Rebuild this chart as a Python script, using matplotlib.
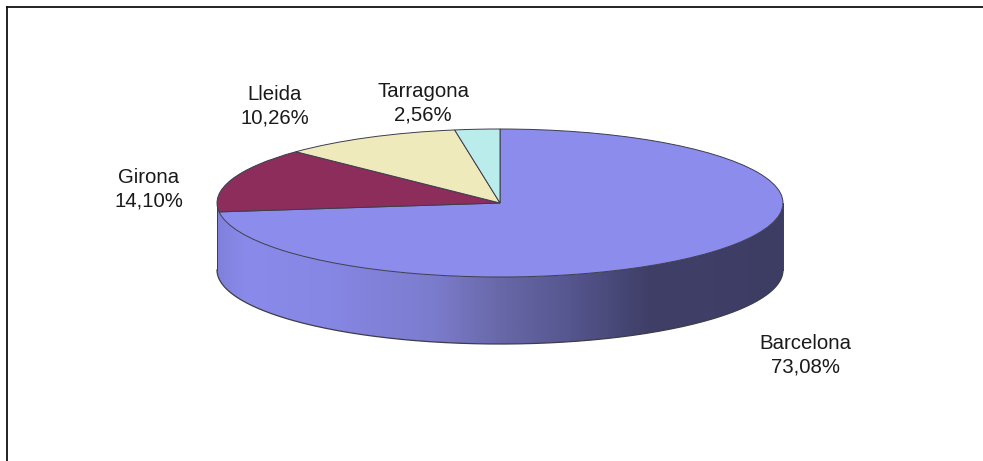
import numpy as np
import matplotlib
matplotlib.use('Agg')
import matplotlib.pyplot as plt
from matplotlib.colors import LinearSegmentedColormap
from matplotlib.patches import PathPatch
from matplotlib.path import Path

plt.rcParams['font.family'] = ['Liberation Sans', 'DejaVu Sans']

# Pie data, clockwise from 12 o'clock
labels = ['Barcelona', 'Girona', 'Lleida', 'Tarragona']
shares = [73.08, 14.10, 10.26, 2.56]
colors = ['#8c8ced', '#8c2d5c', '#eeeabb', '#bbecec']
share_text = ['73,08%', '14,10%', '10,26%', '2,56%']
label_pos = [(805, 355), (149, 189), (275, 106), (423, 103)]

# Pie geometry in pixels of the 983x461 image
W, H = 983, 461
cx, cy, rx, ry, depth = 500, 203, 283, 74, 67
edge = '#3c3c4c'

fig = plt.figure(figsize=(W / 100, H / 100), dpi=100, facecolor='white')
ax = fig.add_axes([0, 0, 1, 1])

wedges, _ = ax.pie(shares, colors=colors, startangle=90, counterclock=False,
                   radius=1, wedgeprops={'edgecolor': edge, 'linewidth': 0.7, 'zorder': 5})

# stretch the round pie into the flattened ellipse, data units are radii
ax.set_aspect('auto')
d = depth / ry

# side wall, front half of the disc
t_front = np.linspace(np.pi, 2 * np.pi, 300)
xs = np.cos(t_front)
ys = np.sin(t_front)
wall_xy = np.vstack([np.column_stack([xs, ys]),
                     np.column_stack([xs[::-1], ys[::-1] - d])])
wall_path = Path(np.vstack([wall_xy, wall_xy[0]]), closed=True)

wall_cmap = LinearSegmentedColormap.from_list('wall', [
    (0.00, '#8080dc'), (0.05, '#8a8aea'), (0.20, '#8686e4'), (0.38, '#7c7cce'),
    (0.50, '#6868a8'), (0.62, '#565690'), (0.76, '#3f3f68'), (1.00, '#3d3d64')])
grad = np.linspace(0, 1, 512).reshape(1, -1)
im = ax.imshow(grad, cmap=wall_cmap, extent=(-1, 1, -1 - d, 1), aspect='auto', zorder=2)
ax.set_xlim((0 - cx) / rx, (W - cx) / rx)
ax.set_ylim((cy - H) / ry, cy / ry)
ax.axis('off')
patch = PathPatch(wall_path, facecolor='none', edgecolor='none', transform=ax.transData)
ax.add_patch(patch)
im.set_clip_path(patch)

# thin maroon strip where Girona reaches the left rim
t_g = np.linspace(np.pi, np.pi + 0.045, 12)
gx = np.concatenate([np.cos(t_g), np.cos(t_g[::-1])])
gy = np.concatenate([np.sin(t_g), np.sin(t_g[::-1]) - d * 0.92])
ax.fill(gx, gy, color='#8c2d5c', zorder=3, lw=0)

# outline of the wall
ax.plot(xs, ys - d, color=edge, lw=0.9, zorder=4)
ax.plot([-1, -1], [0, -d], color=edge, lw=0.7, zorder=4)
ax.plot([1, 1], [0, -d], color=edge, lw=0.7, zorder=4)

for name, pct, (px, py) in zip(labels, share_text, label_pos):
    ax.text((px - cx) / rx, (cy - py) / ry, f'{name}\n{pct}', ha='center', va='center',
            fontsize=14.7, color='#1a1a1a', linespacing=1.27, zorder=6)

# frame, open at right and bottom of the crop
fig.add_artist(plt.Line2D([6.5 / W, 6.5 / W], [0, 1 - 7.5 / H], color='#111111', lw=1.3))
fig.add_artist(plt.Line2D([6.5 / W, 1], [1 - 7.5 / H, 1 - 7.5 / H], color='#111111', lw=1.3))

fig.savefig('out.png', dpi=100, facecolor='white')
